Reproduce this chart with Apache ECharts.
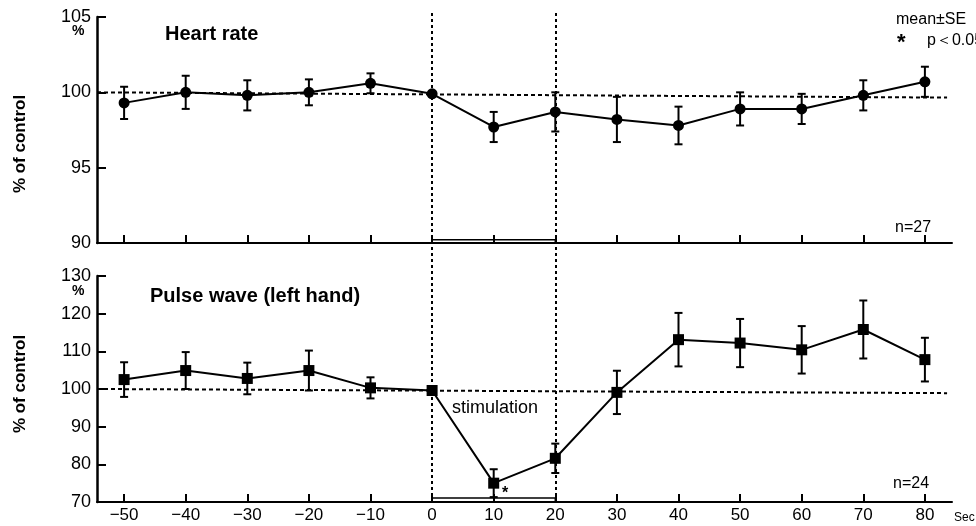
<!DOCTYPE html>
<html>
<head>
<meta charset="utf-8">
<script src="https://cdn.jsdelivr.net/npm/echarts@6/dist/echarts.min.js"></script>
<style>html,body{margin:0;padding:0;background:#fff}#c{width:976px;height:526px}</style>
</head>
<body>
<div id="c"></div>
<script>
// ---- data ----
const seconds = [-50, -40, -30, -20, -10, 0, 10, 20, 30, 40, 50, 60, 70, 80];
const hrMean = [99.3, 100.0, 99.8, 100.0, 100.6, 99.9, 97.7, 98.7, 98.2, 97.8, 98.9, 98.9, 99.8, 100.7];
const hrSE   = [1.07, 1.1, 1.0, 0.86, 0.66, 0, 1.0, 1.3, 1.5, 1.25, 1.1, 1.0, 1.0, 1.0];
const pwMean = [102.5, 104.9, 102.8, 104.9, 100.3, 99.6, 75.0, 81.6, 99.1, 113.1, 112.2, 110.4, 115.8, 107.8];
const pwSE   = [4.6, 4.9, 4.2, 5.3, 2.8, 0, 3.7, 3.9, 5.75, 7.1, 6.4, 6.3, 7.7, 5.8];
const hrTicks = [90, 95, 100, 105];
const pwTicks = [70, 80, 90, 100, 110, 120, 130];
const stimStart = 0, stimEnd = 20;

const FONT = '"Liberation Sans", Arial, sans-serif';
const X_MIN = -54.4, X_MAX = 84.4;

function errData(mean, se) {
  return seconds.map((x, i) => [x, mean[i] - se[i], mean[i] + se[i]]);
}
function errRender(params, api) {
  const x = api.value(0);
  const lo = api.coord([x, api.value(1)]);
  const hi = api.coord([x, api.value(2)]);
  const w = 4;
  const st = { stroke: '#000', lineWidth: 2 };
  return { type: 'group', children: [
    { type: 'line', shape: { x1: lo[0], y1: lo[1], x2: hi[0], y2: hi[1] }, style: st },
    { type: 'line', shape: { x1: lo[0]-w, y1: lo[1], x2: lo[0]+w, y2: lo[1] }, style: st },
    { type: 'line', shape: { x1: hi[0]-w, y1: hi[1], x2: hi[0]+w, y2: hi[1] }, style: st }
  ]};
}
function xAxisCfg(gridIndex, withLabels) {
  return {
    type: 'value', gridIndex, min: X_MIN, max: X_MAX,
    axisLine: { show: true, onZero: false, lineStyle: { color: '#000', width: 2 } },
    axisTick: { show: true, inside: true, length: 8, customValues: seconds, lineStyle: { color: '#000', width: 2 } },
    axisLabel: withLabels ? { show: true, customValues: seconds, color: '#000', fontSize: 17, fontFamily: FONT, margin: 5,
      formatter: v => String(v).replace('-', '\u2212') } : { show: false },
    splitLine: { show: false },
    name: withLabels ? 'Sec' : '', nameLocation: 'end', nameGap: 2,
    nameTextStyle: { color: '#000', fontSize: 12, fontFamily: FONT, verticalAlign: 'top', padding: [10, 0, 0, 0] }
  };
}
function yAxisCfg(gridIndex, min, max, interval, namePad) {
  return {
    type: 'value', gridIndex, min, max, interval,
    axisLine: { show: true, onZero: false, lineStyle: { color: '#000', width: 2.5 } },
    axisTick: { show: true, inside: true, length: 9, lineStyle: { color: '#000', width: 2 } },
    axisLabel: { color: '#000', fontSize: 18, fontFamily: FONT, margin: 6 },
    splitLine: { show: false },
    name: '% of control', nameLocation: 'middle', nameGap: 68, nameRotate: 90,
    nameTextStyle: { color: '#000', fontSize: 17, fontWeight: 'bold', fontFamily: FONT, padding: namePad }
  };
}
const dashH = { color: '#000', width: 2, type: [4, 3] };

const option = {
  backgroundColor: '#fff',
  animation: false,
  grid: [
    { left: 97, right: 24, top: 17, bottom: 283 },
    { left: 97, right: 24, top: 276, bottom: 24 },
    { left: 97, right: 24, top: 10, bottom: 24 }
  ],
  xAxis: [xAxisCfg(0, false), xAxisCfg(1, true),
    { type: 'value', gridIndex: 2, min: X_MIN, max: X_MAX, show: false }],
  yAxis: [yAxisCfg(0, hrTicks[0], hrTicks[hrTicks.length-1], 5, [0, 28, 0, 0]),
          yAxisCfg(1, pwTicks[0], pwTicks[pwTicks.length-1], 10, [0, 0, 0, 10]),
          { type: 'value', gridIndex: 2, min: 0, max: 1, show: false }],
  series: [
    { type: 'line', xAxisIndex: 2, yAxisIndex: 2, data: [], silent: true,
      markLine: { silent: true, symbol: 'none', label: { show: false },
        lineStyle: { color: '#000', width: 2, type: [3, 3] },
        data: [{ xAxis: stimStart }, { xAxis: stimEnd }] } },
    { type: 'custom', xAxisIndex: 0, yAxisIndex: 0, renderItem: errRender, data: errData(hrMean, hrSE), z: 3 },
    { type: 'line', xAxisIndex: 0, yAxisIndex: 0, data: seconds.map((x, i) => [x, hrMean[i]]),
      symbol: 'circle', symbolSize: 11, itemStyle: { color: '#000' }, lineStyle: { color: '#000', width: 2 }, z: 4,
      markLine: { silent: true, symbol: 'none', label: { show: false }, lineStyle: dashH,
        data: [[{ coord: [X_MIN, 100] }, { coord: [83.6, 99.65] }]] },
      markArea: { silent: true, itemStyle: { color: 'rgba(0,0,0,0)', borderColor: '#000', borderWidth: 1.5 },
        data: [[{ coord: [stimStart, 90] }, { coord: [stimEnd, 90.22] }]] } },
    { type: 'custom', xAxisIndex: 1, yAxisIndex: 1, renderItem: errRender, data: errData(pwMean, pwSE), z: 3 },
    { type: 'line', xAxisIndex: 1, yAxisIndex: 1, data: seconds.map((x, i) => [x, pwMean[i]]),
      symbol: 'rect', symbolSize: 11, itemStyle: { color: '#000' }, lineStyle: { color: '#000', width: 2 }, z: 4,
      markLine: { silent: true, symbol: 'none', label: { show: false }, lineStyle: dashH,
        data: [[{ coord: [X_MIN, 100] }, { coord: [83.6, 98.9] }]] },
      markArea: { silent: true, itemStyle: { color: 'rgba(0,0,0,0)', borderColor: '#000', borderWidth: 1.5 },
        data: [[{ coord: [stimStart, 70] }, { coord: [stimEnd, 71.05] }]] } }
  ],
  graphic: [
    { type: 'text', left: 165, top: 24, style: { text: 'Heart rate', font: 'bold 20px ' + FONT, fill: '#000' } },
    { type: 'text', left: 150, top: 286, style: { text: 'Pulse wave (left hand)', font: 'bold 20px ' + FONT, fill: '#000' } },
    { type: 'text', left: 72, top: 24, style: { text: '%', font: 'bold 14px ' + FONT, fill: '#000' } },
    { type: 'text', left: 72, top: 284, style: { text: '%', font: 'bold 14px ' + FONT, fill: '#000' } },
    { type: 'text', left: 896, top: 12, style: { text: 'mean\u00b1SE', font: '16px ' + FONT, fill: '#000' } },
    { type: 'text', left: 897, top: 32, style: { text: '*', font: 'bold 22px ' + FONT, fill: '#000' } },
    { type: 'text', left: 927, top: 33, style: { text: 'p\uff1c0.05', font: '16px ' + FONT, fill: '#000' } },
    { type: 'text', left: 895, top: 220, style: { text: 'n=27', font: '16px ' + FONT, fill: '#000' } },
    { type: 'text', left: 893, top: 476, style: { text: 'n=24', font: '16px ' + FONT, fill: '#000' } },
    { type: 'text', left: 452, top: 399, style: { text: 'stimulation', font: '18px ' + FONT, fill: '#000' } },
    { type: 'text', left: 502, top: 486, style: { text: '*', font: 'bold 16px ' + FONT, fill: '#000' } }
  ]
};
echarts.init(document.getElementById('c'), null, { renderer: 'canvas' }).setOption(option);
</script>
</body>
</html>
